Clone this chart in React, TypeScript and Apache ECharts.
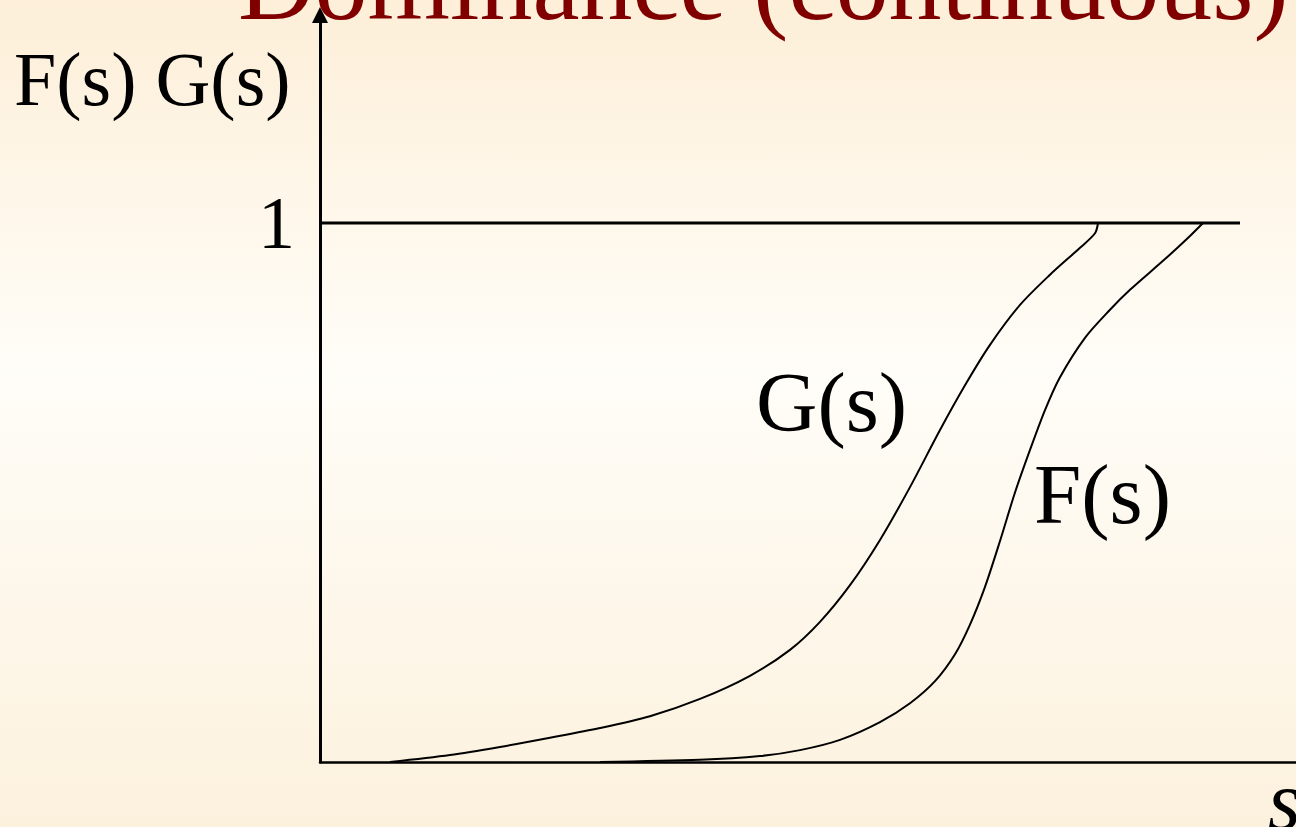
import React, { useEffect, useRef } from "react";
import * as echarts from "echarts";

// s positions (arbitrary units, axis 0..976) and cumulative probabilities
const gS = [70, 130, 180, 230, 280, 330, 380, 430, 470, 500, 530, 560, 590, 620, 645, 670, 700, 730, 760, 775, 778];
const gP = [0, 0.013, 0.028, 0.045, 0.063, 0.085, 0.117, 0.16, 0.208, 0.26, 0.328, 0.412, 0.51, 0.616, 0.699, 0.774, 0.848, 0.904, 0.954, 0.981, 1.0];
const fS = [280, 380, 440, 480, 520, 560, 590, 615, 635, 650, 665, 680, 695, 710, 725, 740, 765, 790, 810, 845, 870, 883];
const fP = [0, 0.004, 0.011, 0.022, 0.041, 0.074, 0.109, 0.15, 0.2, 0.255, 0.325, 0.41, 0.5, 0.579, 0.653, 0.714, 0.787, 0.839, 0.876, 0.933, 0.976, 1.0];
const oneS = [0, 920];
const oneP = [1, 1];
const yTicks = [1];

const SERIF = '"Liberation Serif", "Times New Roman", serif';

export default function App() {
  const ref = useRef<HTMLDivElement>(null);
  useEffect(() => {
    if (!ref.current) return;
    const chart = echarts.init(ref.current, undefined, { renderer: "svg" });
    const zip = (xs: number[], ys: number[]) => xs.map((x, i) => [x, ys[i]]);
    chart.setOption({
      animation: false,
      backgroundColor: {
        type: "linear",
        x: 0, y: 0, x2: 0, y2: 1,
        colorStops: [
          { offset: 0, color: "#fdefd8" },
          { offset: 0.45, color: "#fffdf8" },
          { offset: 1, color: "#fcf1dd" },
        ],
      },
      grid: { left: 320, right: 0, top: 15, bottom: 65, containLabel: false },
      xAxis: {
        type: "value",
        min: 0,
        max: 976,
        axisLine: { lineStyle: { color: "#000", width: 2.5 } },
        axisTick: { show: false },
        axisLabel: { show: false },
        splitLine: { show: false },
      },
      yAxis: {
        type: "value",
        min: 0,
        max: 747 / 539,
        interval: 1,
        axisLine: {
          show: true,
          lineStyle: { color: "#000", width: 3 },
          symbol: ["none", "triangle"],
          symbolSize: [16, 16],
        },
        axisTick: { show: false },
        splitLine: { show: false },
        axisLabel: {
          show: true,
          formatter: (v: number) => (yTicks.indexOf(v) >= 0 ? String(v) : ""),
          fontFamily: SERIF,
          fontSize: 74,
          color: "#000",
          margin: 25,
          padding: [14, 0, 0, 0],
        },
      },
      series: [
        {
          name: "one",
          type: "line",
          data: zip(oneS, oneP),
          showSymbol: false,
          lineStyle: { color: "#000", width: 3 },
        },
        {
          name: "G(s)",
          type: "line",
          data: zip(gS, gP),
          smooth: 0.3,
          showSymbol: false,
          lineStyle: { color: "#000", width: 2 },
        },
        {
          name: "F(s)",
          type: "line",
          data: zip(fS, fP),
          smooth: 0.3,
          showSymbol: false,
          lineStyle: { color: "#000", width: 2 },
        },
      ],
      graphic: [
        {
          type: "text",
          x: 238,
          y: -17,
          style: { text: "Dominance (continuous)", font: `106px ${SERIF}`, fill: "#800000", textVerticalAlign: "middle" },
        },
        {
          type: "text",
          x: 14,
          y: 79,
          style: { text: "F(s) G(s)", font: `76px ${SERIF}`, fill: "#000", textVerticalAlign: "middle" },
        },
        {
          type: "text",
          x: 756,
          y: 402,
          style: { text: "G(s)", font: `85px ${SERIF}`, fill: "#000", textVerticalAlign: "middle" },
        },
        {
          type: "text",
          x: 1034,
          y: 494,
          style: { text: "F(s)", font: `85px ${SERIF}`, fill: "#000", textVerticalAlign: "middle" },
        },
        {
          type: "text",
          x: 1268,
          y: 800,
          style: { text: "s", font: `italic 84px ${SERIF}`, fill: "#000", textVerticalAlign: "middle" },
        },
      ],
    });
    return () => chart.dispose();
  }, []);
  return (
    <div
      ref={ref}
      style={{ position: "fixed", left: 0, top: 0, width: 1296, height: 827 }}
    />
  );
}
